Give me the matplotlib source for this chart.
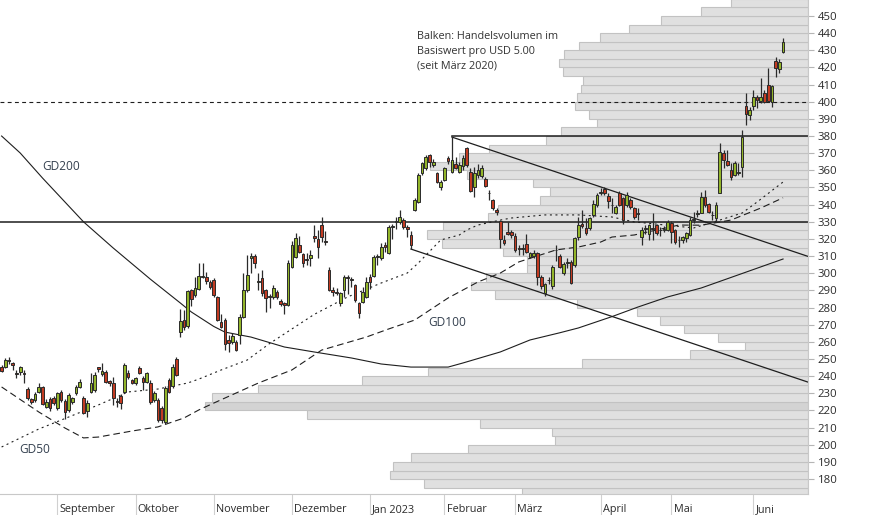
import numpy as np
import pandas as pd
import matplotlib
matplotlib.use("Agg")
import matplotlib.pyplot as plt

plt.rcParams['font.family'] = ['Open Sans', 'DejaVu Sans']

# ---------------- data ----------------
holidays = ['2022-09-05', '2022-11-24', '2022-12-26', '2023-01-02', '2023-01-16',
            '2023-02-20', '2023-04-07', '2023-05-29']
start_date, end_date = '2022-08-11', '2023-06-13'

opens = [
    # Aug
    245.2, 245.2, 249.4, 247.5, 241.6, 242.2, 241.8, 232.3, 226.5, 226.1, 230.6, 233.5, 222.2, 226.5, 227.1,
    # Sep
    221.3, 231.0, 225.7, 220.3, 224.8, 230.0, 233.9, 227.1, 219.9, 231.0, 231.9, 245.5, 241.1, 242.6, 237.4,
    235.8, 225.6, 228.4, 231.0, 242.0, 237.8,
    # Oct
    235.8, 244.6, 238.8, 236.8, 236.2, 226.1, 226.1, 221.3, 213.5, 237.8, 234.3, 249.8,
    265.5, 272.7, 269.4, 290.2, 287.3, 290.6, 297.6, 297.6, 295.0,
    # Nov
    296.1, 286.4, 271.8, 272.7, 261.1, 260.1, 260.1, 264.0, 274.7, 290.2, 309.0, 310.2, 295.0, 297.0, 290.2,
    286.5, 286.3, 289.0, 284.0, 282.8, 281.5,
    # Dec
    303.8, 309.6, 316.4, 311.0, 308.2, 308.7, 321.7, 319.8, 328.1, 318.8, 301.9, 290.2, 289.2, 282.4, 290.2,
    297.9, 296.4, 293.1, 282.4, 283.4, 286.3,
    # Jan
    298.0, 298.4, 309.6, 309.0, 316.4, 311.6, 327.1, 330.0, 330.0, 331.0, 327.0, 322.3, 336.9, 341.7, 358.2,
    361.1, 368.9, 363.0, 358.2, 350.5,
    # Feb
    354.3, 367.0, 359.2, 363.5, 359.2, 362.7, 372.8, 359.2, 350.4, 357.2, 356.9, 354.9, 346.6, 342.7, 336.8,
    330.6, 319.4, 324.2, 323.8,
    # Mar
    321.7, 314.8, 314.2, 316.8, 309.6, 310.0, 311.6, 298.0, 288.3, 296.3, 292.5, 313.3, 310.0, 299.9, 306.0,
    306.7, 304.8, 320.9, 328.5, 326.2, 326.2, 334.0, 339.8,
    # Apr
    346.8, 348.9, 345.0, 340.0, 335.3, 346.6, 343.6, 339.8, 342.7, 337.8, 335.0, 321.3, 326.0, 322.9, 326.5,
    328.1, 325.0, 325.4, 325.2,
    # May
    329.5, 325.0, 319.6, 319.4, 320.3, 322.3, 331.2, 334.5, 335.3, 344.6, 340.3, 334.2, 332.0, 347.0, 369.9,
    365.4, 360.2, 357.3, 358.4, 362.1, 397.5, 392.2,
    # Jun
    397.5, 402.7, 400.6, 404.9, 409.7, 400.0, 423.9, 418.9, 429.2,
]
highs = [
    246.5, 250.4, 251.4, 248.5, 243.6, 246.0, 243.6, 233.9, 227.5, 230.6, 236.0, 234.5, 226.5, 227.7, 228.5,
    231.0, 232.0, 226.5, 230.0, 228.0, 235.0, 238.5, 228.4, 226.2, 242.0, 242.6, 245.5, 247.9, 243.5, 238.0,
    239.7, 227.0, 229.5, 247.5, 243.5, 238.6,
    239.5, 246.0, 240.0, 242.5, 237.5, 231.5, 227.0, 222.5, 234.0, 239.0, 247.0, 251.0,
    278.9, 278.5, 290.5, 291.0, 298.0, 305.8, 305.8, 300.9, 296.0,
    297.0, 287.0, 276.0, 274.0, 264.0, 265.0, 261.0, 276.0, 300.0, 310.7, 311.6, 311.0, 300.0, 302.0, 291.0,
    288.0, 293.0, 290.0, 285.0, 283.5, 307.5,
    319.0, 323.2, 322.0, 311.6, 311.6, 313.5, 328.0, 325.0, 332.6, 324.5, 303.8, 292.0, 291.2, 289.0, 299.0,
    299.0, 297.9, 294.0, 283.4, 292.0, 298.0,
    299.5, 310.6, 311.0, 317.4, 318.0, 328.1, 329.0, 333.0, 336.8, 332.0, 328.0, 324.4, 343.7, 358.3, 365.0,
    369.0, 369.5, 366.5, 359.2, 354.4,
    362.1, 368.5, 379.4, 368.0, 365.0, 368.9, 373.8, 361.1, 362.1, 363.5, 363.1, 356.3, 348.5, 343.3, 337.8,
    331.0, 322.3, 330.0, 325.2,
    323.2, 316.4, 316.8, 323.0, 312.5, 313.5, 312.5, 299.0, 294.6, 297.9, 305.0, 316.4, 311.0, 306.5, 309.0,
    307.7, 320.9, 333.0, 336.8, 332.0, 333.0, 342.7, 346.6,
    349.5, 350.0, 346.6, 343.6, 340.0, 348.0, 344.5, 347.5, 344.0, 338.8, 338.0, 327.0, 328.0, 328.8, 335.0,
    329.0, 327.0, 327.5, 331.0,
    330.5, 326.0, 321.5, 321.8, 324.0, 332.5, 335.9, 336.8, 347.5, 348.5, 341.0, 336.0, 341.7, 376.1, 371.9,
    371.9, 364.0, 365.5, 364.0, 383.5, 404.9, 397.1,
    406.8, 403.9, 413.6, 406.8, 419.5, 409.7, 426.3, 424.7, 436.9,
]
lows = [
    242.6, 244.6, 247.0, 243.6, 238.7, 240.7, 236.2, 226.1, 223.5, 225.0, 230.0, 223.0, 221.3, 219.5, 223.0,
    220.5, 225.0, 214.8, 219.0, 223.5, 229.0, 233.0, 217.9, 216.0, 230.0, 231.0, 242.6, 240.0, 236.0, 234.0,
    223.2, 222.0, 221.0, 230.0, 238.5, 235.5,
    235.0, 241.0, 232.0, 236.0, 224.0, 225.0, 213.5, 212.8, 212.0, 230.0, 233.0, 240.0,
    263.0, 266.9, 268.0, 281.0, 286.3, 290.0, 297.0, 294.0, 291.0,
    286.0, 272.0, 268.0, 255.2, 254.2, 259.0, 254.5, 259.0, 274.0, 289.0, 300.0, 303.0, 290.0, 287.0, 277.6,
    280.0, 285.0, 285.0, 281.0, 276.0, 281.0,
    303.0, 308.7, 311.6, 303.8, 305.0, 304.0, 318.5, 308.7, 318.0, 316.4, 289.8, 287.0, 287.3, 281.0, 286.3,
    288.0, 292.0, 283.4, 273.7, 282.4, 285.4,
    291.0, 298.0, 305.0, 308.0, 312.6, 311.0, 320.0, 326.0, 329.0, 326.0, 321.3, 314.0, 336.0, 341.0, 357.3,
    360.0, 362.0, 362.0, 352.4, 348.5,
    353.9, 363.5, 358.2, 361.0, 358.2, 360.2, 362.1, 347.5, 344.6, 355.3, 355.3, 350.4, 342.7, 336.8, 334.0,
    314.5, 316.4, 322.3, 320.3,
    312.6, 310.6, 310.6, 311.6, 308.7, 309.0, 293.0, 291.0, 286.5, 294.0, 291.0, 307.0, 303.0, 299.0, 303.0,
    293.5, 303.9, 319.4, 326.5, 322.5, 325.0, 332.5, 338.8,
    345.5, 345.5, 337.8, 334.9, 334.5, 339.0, 329.0, 338.5, 337.5, 331.5, 331.0, 316.5, 323.0, 319.5, 319.4,
    322.5, 322.0, 324.0, 324.5,
    317.5, 317.0, 315.5, 317.5, 318.5, 322.0, 329.5, 332.8, 335.0, 338.8, 335.0, 331.0, 330.0, 346.6, 361.1,
    362.5, 354.4, 356.5, 357.3, 356.3, 386.4, 389.3,
    395.2, 396.1, 399.0, 399.0, 400.0, 397.1, 414.6, 417.0, 428.6,
]
closes = [
    243.2, 249.4, 248.7, 246.5, 241.1, 245.2, 241.4, 227.1, 224.8, 229.6, 233.9, 223.8, 224.8, 221.3, 224.2,
    230.0, 226.1, 219.0, 229.0, 227.1, 233.9, 236.8, 218.3, 224.6, 235.8, 240.7, 244.0, 243.2, 236.8, 235.8,
    227.1, 225.1, 224.6, 246.5, 239.7, 236.3,
    238.8, 241.7, 236.8, 241.7, 225.1, 230.4, 214.4, 214.4, 232.9, 231.0, 245.6, 240.7,
    272.3, 268.4, 289.6, 285.0, 291.2, 298.4, 298.4, 295.6, 292.2,
    287.3, 272.7, 268.9, 259.0, 259.1, 263.4, 255.3, 274.7, 290.2, 299.0, 310.0, 305.8, 295.5, 288.3, 285.4,
    286.0, 291.2, 286.3, 282.0, 281.5, 305.8,
    316.4, 320.3, 312.6, 305.8, 307.7, 310.6, 320.3, 315.5, 320.9, 318.5, 290.2, 289.2, 288.3, 288.3, 298.0,
    297.5, 295.8, 284.4, 277.0, 289.2, 295.0,
    295.0, 309.6, 309.9, 315.5, 315.2, 327.1, 327.3, 330.5, 332.6, 326.7, 326.0, 316.4, 342.7, 357.3, 364.1,
    368.0, 365.0, 365.0, 353.4, 353.4,
    361.5, 365.4, 366.0, 361.5, 363.0, 366.9, 363.1, 347.9, 358.2, 360.2, 361.5, 351.0, 346.8, 337.8, 335.5,
    320.0, 317.4, 322.6, 322.3,
    313.5, 314.2, 314.8, 312.5, 311.6, 311.6, 298.0, 292.5, 293.7, 295.8, 303.8, 313.5, 303.8, 305.4, 306.7,
    294.1, 320.3, 328.1, 327.5, 323.6, 332.0, 340.3, 345.6,
    347.5, 346.6, 342.3, 339.6, 338.8, 339.8, 331.0, 345.6, 338.8, 333.0, 334.7, 325.2, 326.3, 328.1, 326.0,
    323.2, 325.3, 325.8, 330.0,
    324.0, 318.4, 319.2, 321.3, 323.3, 331.0, 331.6, 334.9, 344.6, 339.8, 335.9, 333.9, 339.8, 370.9, 366.0,
    363.1, 356.3, 364.5, 358.8, 379.2, 392.8, 395.2,
    402.9, 401.0, 402.9, 400.0, 400.5, 409.2, 419.5, 423.3, 435.0,
]

# moving averages (trading-day number, value)
ma50_day = [0, 10, 16, 26, 34, 42, 50, 53, 59, 66, 72, 84, 93, 102, 109, 112, 118, 123, 125, 128, 134, 137,
            146, 155, 164, 170, 173, 186, 193, 199, 203, 210]
ma50_val = [198.7, 209.2, 214.4, 223.2, 230.8, 232.5, 236.0, 238.3, 243.6, 249.4, 259.0, 276.0, 286.2, 294.3,
            300.1, 306.0, 319.4, 322.3, 325.2, 328.1, 331.0, 332.2, 334.0, 334.0, 332.8, 329.9, 329.3, 326.4,
            331.0, 335.1, 341.5, 353.2]
ma100_day = [0, 10, 17, 22, 26, 35, 42, 49, 53, 57, 69, 78, 86, 98, 104, 111, 120, 128, 134, 139, 149, 155,
             161, 164, 170, 182, 188, 196, 204, 210]
ma100_val = [233.7, 219.1, 209.8, 204.0, 204.5, 208.0, 210.4, 215.6, 220.3, 224.3, 236.0, 243.6, 255.2, 262.8,
             267.5, 272.7, 285.6, 294.9, 300.1, 306.6, 313.6, 315.3, 318.2, 321.1, 322.3, 328.1, 328.0, 331.0,
             338.0, 344.0]
ma200_day = [0, 5, 11, 22, 30, 40, 48, 51, 57, 60, 67, 76, 84, 94, 102, 110, 120, 124, 134, 142, 150, 155,
             164, 171, 179, 188, 210]
ma200_val = [380.0, 370.1, 355.5, 330.0, 314.7, 296.5, 282.7, 277.4, 269.0, 265.7, 262.8, 257.0, 254.1, 250.6,
             247.1, 245.3, 245.3, 247.7, 254.1, 261.1, 265.3, 268.1, 274.7, 280.3, 286.2, 291.4, 308.3]

# volume profile: USD 5 bins (lower edge) and relative volume
vol_bin_low = list(range(170, 460, 5))
vol_rel = [47.4, 63.7, 69.3, 68.8, 65.8, 56.4, 42.0, 42.5, 54.4, 83.1,
           100.0, 98.8, 91.2, 74.0, 63.0, 37.5, 19.6, 10.4, 14.9, 20.6,
           24.5, 28.4, 38.3, 51.9, 55.9, 53.4, 46.6, 46.6, 50.6, 60.7,
           63.2, 60.5, 53.1, 51.4, 44.4, 42.8, 45.6, 56.6, 62.7, 57.9,
           52.9, 43.4, 41.0, 35.0, 36.3, 38.6, 38.3, 37.6, 37.3, 40.6,
           41.3, 40.5, 38.0, 34.5, 29.7, 24.4, 17.7, 12.8]

# levels and trend lines
support_level = 330.0
resist_level = 380.0
resist_start_day = 121
dotted_level = 400.0
trend_upper_anchor = (121, 379.4)
trend_lower_anchor = (110, 314.1)
trend_slope = -0.727  # USD per trading day

month_labels = ['September', 'Oktober', 'November', 'Dezember', 'Jan 2023', 'Februar', 'März',
                'April', 'Mai', 'Juni']
y_ticks = list(range(180, 451, 10))
note_lines = ['Balken: Handelsvolumen im', 'Basiswert pro USD 5.00', '(seit März 2020)']

# ---------------- figure ----------------
dates = pd.bdate_range(start_date, end_date, freq='C', holidays=holidays)
n = len(opens)
xs = np.arange(n)
o = np.array(opens); h = np.array(highs); l = np.array(lows); c = np.array(closes)

W, H = 874, 515
fig = plt.figure(figsize=(W / 100, H / 100), dpi=100)
rect = [0, 21 / H, 808 / W, 494 / H]
ylim = (171.3, 459.3)

# volume profile (background)
ax_v = fig.add_axes(rect)
vmax = max(vol_rel)
vcolors = ['#d3d3d3' if v == vmax else '#e0e0e0' for v in vol_rel]
ax_v.barh(np.array(vol_bin_low) + 2.5, vol_rel, height=5, left=0, color=vcolors,
          edgecolor='#c2c2c2', linewidth=0.8)
ax_v.set_xlim(134, 0)
ax_v.set_ylim(ylim)
ax_v.axis('off')

# price axes
ax = fig.add_axes(rect)
ax.patch.set_visible(False)
ax.set_xlim(-0.43, 216.7)
ax.set_ylim(ylim)

# lines
lc = '#1e1e1e'
ax.axhline(dotted_level, color=lc, lw=0.8, linestyle=(0, (3.5, 3)), zorder=2)
ax.axhline(support_level, color=lc, lw=1.1, zorder=2)
ax.plot([resist_start_day, 220], [resist_level, resist_level], color=lc, lw=1.1, zorder=2)
for (d0, p0) in (trend_upper_anchor, trend_lower_anchor):
    ax.plot([d0, 220], [p0, p0 + trend_slope * (220 - d0)], color=lc, lw=0.9, zorder=2)

ax.plot(ma200_day, ma200_val, color=lc, lw=0.8, zorder=2)
ax.plot(ma100_day, ma100_val, color=lc, lw=0.8, linestyle=(0, (6, 3.5)), zorder=2)
ax.plot(ma50_day, ma50_val, color=lc, lw=0.8, linestyle=(0, (1.8, 3.2)), zorder=2)

# candles
up = c >= o
ax.vlines(xs, l, h, color='#2a2a2a', lw=0.9, zorder=3)
ax.bar(xs, c - o, bottom=o, width=0.72,
       color=np.where(up, '#93b52a', '#c23b22'), edgecolor='#2a2a2a', linewidth=0.7, zorder=4)

# axes styling
for s in ('top', 'left'):
    ax.spines[s].set_visible(False)
for s in ('right', 'bottom'):
    ax.spines[s].set_color('#c8c8c8')
    ax.spines[s].set_linewidth(0.8)
ax.yaxis.tick_right()
ax.set_yticks(y_ticks)
ax.set_yticklabels([str(t) for t in y_ticks])
ax.tick_params(axis='y', length=4, width=0.8, color='#b5b5b5', labelsize=8.2,
               labelcolor='#2b2b2b', pad=3)

month_first = [int(np.where((dates.year == y) & (dates.month == m))[0][0])
               for y, m in [(2022, 9), (2022, 10), (2022, 11), (2022, 12), (2023, 1), (2023, 2),
                            (2023, 3), (2023, 4), (2023, 5), (2023, 6)]]
ax.set_xticks(month_first)
ax.set_xticklabels([''] * len(month_first))
ax.tick_params(axis='x', length=15.5, width=0.8, color='#d0d0d0')
for pos, lab in zip(month_first, month_labels):
    ax.annotate(lab, xy=(pos, 0), xycoords=('data', 'axes fraction'), xytext=(1.6, -11),
                textcoords='offset points', ha='left', va='center', fontsize=7.8, color='#2b2b2b')

# labels
tcol = '#34404f'
ax.text(11.0, 362.0, 'GD200', fontsize=8.6, color=tcol, ha='left', va='center')
ax.text(114.6, 271.3, 'GD100', fontsize=8.6, color=tcol, ha='left', va='center')
ax.text(4.8, 197.5, 'GD50', fontsize=8.6, color=tcol, ha='left', va='center')
for k, line in enumerate(note_lines):
    ax.text(111.6, 438.0 - k * 8.45, line, fontsize=7.8, color='#333333', ha='left', va='center')

fig.savefig('out.png', dpi=100)
